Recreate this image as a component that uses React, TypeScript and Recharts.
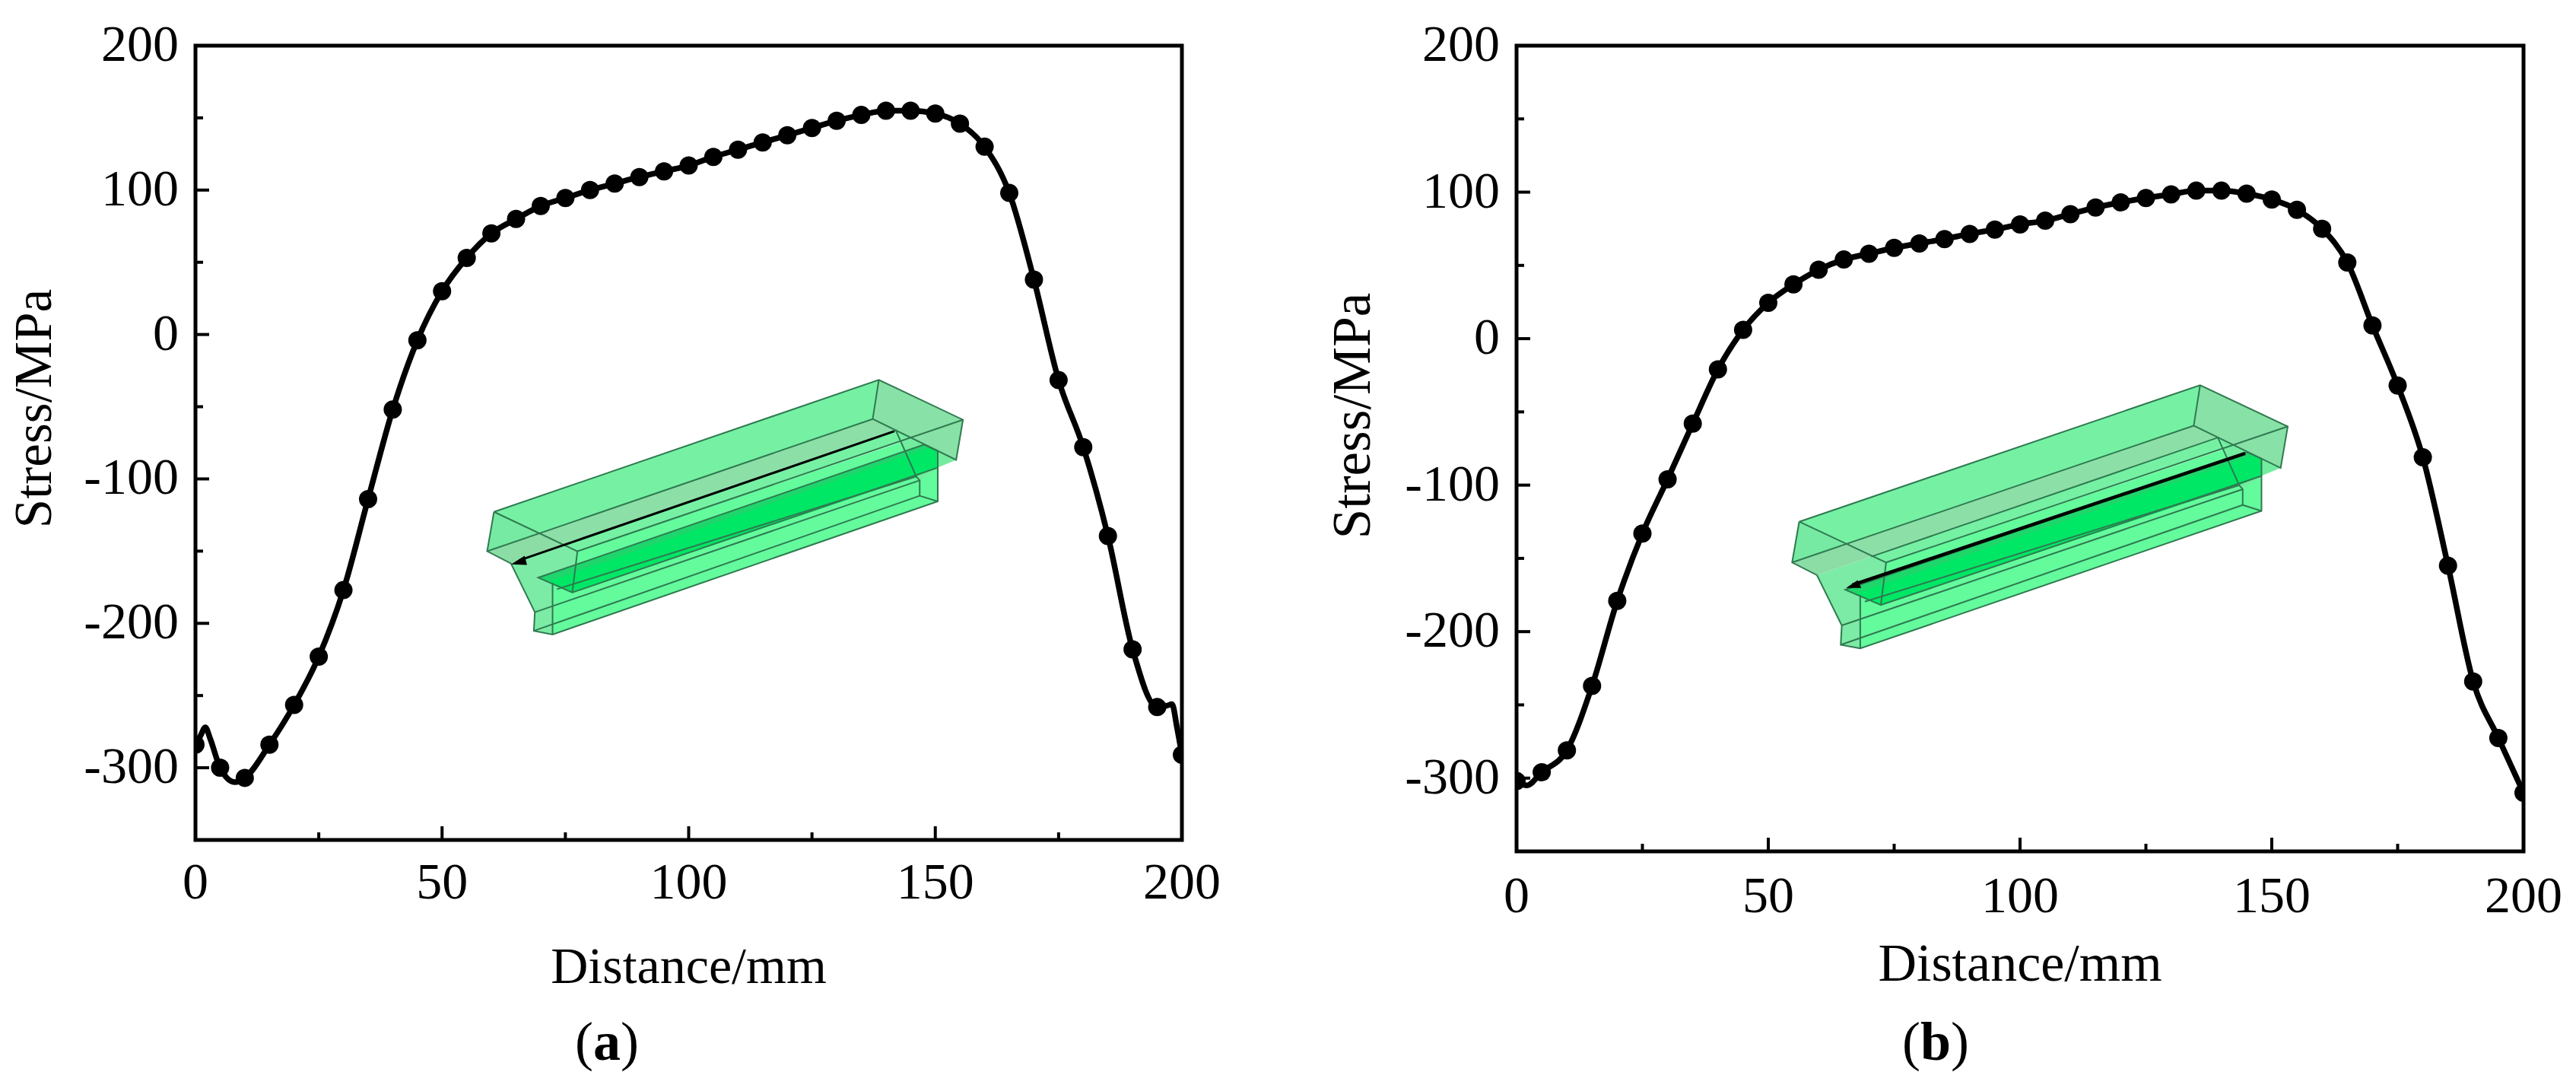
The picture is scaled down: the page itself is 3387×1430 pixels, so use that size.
import { ComposedChart, Line, XAxis, YAxis, ReferenceArea } from "recharts";

const SERIF = "'Liberation Serif', 'Times New Roman', serif";

// sampled positions along the path, mm
const markerDistance = [
  0, 5, 10, 15, 20, 25, 30, 35, 40, 45, 50, 55, 60, 65, 70, 75, 80, 85, 90, 95, 100,
  105, 110, 115, 120, 125, 130, 135, 140, 145, 150, 155, 160, 165, 170, 175, 180, 185, 190, 195, 200,
];
const stressA = [
  -284, -300, -307, -284, -256.5, -223, -177, -114, -52, -4, 30, 53, 70, 80, 89, 94.5, 100, 104.5, 109, 113, 117,
  123, 128, 133, 138, 143, 148, 152, 155, 155, 153, 146, 130, 98, 38, -31.6, -78, -139.5, -218, -258, -291,
];
const stressB = [
  -302, -296, -281, -237, -179, -133, -96, -58, -21, 6, 24.5, 37, 47, 54, 58, 62, 65, 68, 71.5, 74.5, 78,
  80.5, 85, 89.5, 93, 96, 98.5, 101, 101, 99, 95, 88, 75, 52, 9, -32, -81, -155, -234, -272.6, -310,
];
// the curve has a few vertices between the markers
const extraA = [
  { distance: 1, stress: -278 },
  { distance: 2, stress: -272 },
  { distance: 3, stress: -280 },
  { distance: 8, stress: -310 },
  { distance: 197, stress: -257 },
  { distance: 198, stress: -256 },
  { distance: 199, stress: -272 },
];
const extraB = [{ distance: 2, stress: -305 }];

const xMajor = [0, 50, 100, 150, 200];
const xMinor = [25, 75, 125, 175];
const yMajor = [-300, -200, -100, 0, 100, 200];
const yMinor = [-250, -150, -50, 50, 150];

const markersOf = (values: number[]) => markerDistance.map((distance, i) => ({ distance, stress: values[i] }));
const curveOf = (values: number[], extra: { distance: number; stress: number }[]) =>
  [...markersOf(values), ...extra].sort((a, b) => a.distance - b.distance);

function XTick({ x, y, payload, labelGap }: any) {
  const major = xMajor.includes(payload.value);
  return (
    <g>
      <line x1={x} x2={x} y1={y} y2={y - (major ? 18 : 10)} stroke="#000" strokeWidth={4} />
      {major && (
        <text x={x} y={y + labelGap} textAnchor="middle" fontSize={68} fontFamily={SERIF} fill="#000">
          {payload.value}
        </text>
      )}
    </g>
  );
}

function YTick({ x, y, payload }: any) {
  const major = yMajor.includes(payload.value);
  return (
    <g>
      <line x1={x} x2={x + (major ? 18 : 10)} y1={y} y2={y} stroke="#000" strokeWidth={4} />
      {major && (
        <text x={x - 22} y={y + 20} textAnchor="end" fontSize={68} fontFamily={SERIF} fill="#000">
          {payload.value}
        </text>
      )}
    </g>
  );
}

function StressPanel({ values, extra, left, width, margin, yAxisWidth, labelGap, xTitle, yTitle }: any) {
  return (
    <div style={{ position: "absolute", left, top: 0 }}>
      <ComposedChart width={width} height={1430} margin={margin}>
        <XAxis
          dataKey="distance"
          type="number"
          domain={[0, 200]}
          ticks={[...xMajor, ...xMinor].sort((a, b) => a - b)}
          interval={0}
          allowDataOverflow
          height={margin.axisHeight}
          axisLine={false}
          tickLine={false}
          tickSize={0}
          tickMargin={0}
          tick={<XTick labelGap={labelGap} />}
          label={{
            value: "Distance/mm",
            position: "insideTop",
            offset: xTitle.offset,
            style: { fontFamily: SERIF, fontSize: xTitle.fontSize, fill: "#000" },
          }}
        />
        <YAxis
          type="number"
          domain={[-350, 200]}
          ticks={[...yMajor, ...yMinor].sort((a, b) => a - b)}
          interval={0}
          allowDataOverflow
          width={yAxisWidth}
          axisLine={false}
          tickLine={false}
          tickSize={0}
          tickMargin={0}
          tick={<YTick />}
          label={{
            value: "Stress/MPa",
            angle: -90,
            position: "insideLeft",
            offset: yTitle.offset,
            dy: yTitle.dy,
            style: { fontFamily: SERIF, fontSize: yTitle.fontSize, fill: "#000", textAnchor: "middle" },
          }}
        />
        <Line
          data={curveOf(values, extra)}
          dataKey="stress"
          type="monotone"
          stroke="#000"
          strokeWidth={7.5}
          dot={false}
          activeDot={false}
          isAnimationActive={false}
        />
        <Line
          data={markersOf(values)}
          dataKey="stress"
          type="linear"
          stroke="none"
          dot={{ r: 12, fill: "#000", stroke: "none" }}
          activeDot={false}
          isAnimationActive={false}
        />
        <ReferenceArea x1={0} x2={200} y1={-350} y2={200} fill="none" stroke="#000" strokeWidth={5} />
      </ComposedChart>
    </div>
  );
}

// Beam sketch inset, traced in its own 1552x1130 box
const EDGE = "#2f7a50";
const insetFaces: [string, string][] = [
  ["165,805 235,995 232,1068 287,1082 1418,562 1418,365 1378,300 360,757", "#64fb9d"],
  ["165,805 235,995 232,1068 287,1082 287,880 345,918 360,757 318,735", "#7cebA5"],
  ["1365,300 1472,400 1418,430 1365,480 1295,285", "#74ec9f"],
  ["115,603 1245,87 1227,240 248,690", "#76f1a4"],
  ["318,735 1295,285 1325,322 360,757", "#76f1a4"],
  ["248,690 1227,240 1295,285 318,735", "#8ddfa8"],
  ["1245,87 1492,243 1472,400 1227,240", "#88e1a6"],
  ["115,603 248,690 95,757", "#76eaa2"],
  ["95,757 248,690 360,757 318,735 165,805", "#8cdca6"],
  ["245,860 1378,340 1418,365 1418,430 1355,465 345,918", "#00e765"],
  ["245,860 1378,340 1395,352 275,875", "#1ed66b"],
];
const insetEdges = [
  "115,603 1245,87 1492,243 1472,400 1227,240 1245,87",
  "115,603 95,757 165,805 235,995 232,1068 287,1082 1418,562 1418,365 1378,340 245,860 345,918 1418,430",
  "115,603 360,757 345,918",
  "95,757 1227,240",
  "318,735 1295,285 1355,465 1365,480 1365,540 1418,562",
  "360,757 1492,243",
  "235,995 1365,480",
  "232,1068 1365,540",
  "287,880 287,1082",
  "300,905 1355,465",
];

function Inset({ left, top, width, height, arrow, head, arrowWidth }: any) {
  return (
    <svg
      style={{ position: "absolute", left, top }}
      width={width}
      height={height}
      viewBox="0 0 1552 1130"
      preserveAspectRatio="none"
    >
      {insetFaces.map(([points, fill]) => (
        <polygon key={points} points={points} fill={fill} />
      ))}
      {insetEdges.map((points) => (
        <polyline key={points} points={points} fill="none" stroke={EDGE} strokeWidth={2} vectorEffect="non-scaling-stroke" />
      ))}
      <polyline points={arrow} fill="none" stroke="#000" strokeWidth={arrowWidth} vectorEffect="non-scaling-stroke" />
      <polygon points={head} fill="#000" />
    </svg>
  );
}

function Caption({ x, letter }: { x: number; letter: string }) {
  return (
    <div
      style={{
        position: "absolute",
        left: x - 100,
        top: 1329,
        width: 200,
        textAlign: "center",
        fontFamily: SERIF,
        fontSize: 72,
        lineHeight: "80px",
        color: "#000",
      }}
    >
      (<b>{letter}</b>)
    </div>
  );
}

export default function App() {
  return (
    <div style={{ position: "absolute", left: 0, top: 0, width: 3387, height: 1430, background: "#fff", overflow: "hidden" }}>
      <StressPanel
        values={stressA}
        extra={extraA}
        left={0}
        width={1690}
        margin={{ top: 60, right: 136, bottom: 0, left: 0, axisHeight: 326 }}
        yAxisWidth={257}
        labelGap={77}
        xTitle={{ offset: 140, fontSize: 68 }}
        yTitle={{ offset: 43, dy: -45, fontSize: 69 }}
      />
      <StressPanel
        values={stressB}
        extra={extraB}
        left={1700}
        width={1687}
        margin={{ top: 60, right: 69, bottom: 0, left: 0, axisHeight: 311 }}
        yAxisWidth={294}
        labelGap={80}
        xTitle={{ offset: 120, fontSize: 70 }}
        yTitle={{ offset: 76, dy: -43, fontSize: 71 }}
      />
      <Inset left={598} top={470} width={695} height={380} arrowWidth={3} arrow="1290,288 190,792" head="165,808 205,775 212,810" />
      <Inset left={2312} top={476} width={724} height={393} arrowWidth={4.5} arrow="1372,345 265,842" head="247,853 280,824 290,853" />
      <Caption x={798} letter="a" />
      <Caption x={2545} letter="b" />
    </div>
  );
}
